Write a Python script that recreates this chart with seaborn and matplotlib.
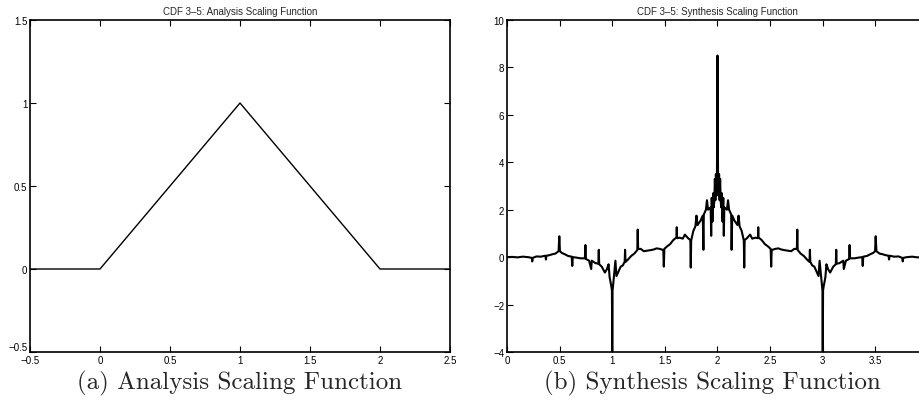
import numpy as np
import pandas as pd
import matplotlib
matplotlib.use("Agg")
import matplotlib.pyplot as plt
import seaborn as sns

# analysis scaling function (hat function)
analysis_x = [-0.5, 0.0, 1.0, 2.0, 2.5]
analysis_y = [0.0, 0.0, 1.0, 0.0, 0.0]

# synthesis scaling function
synth_x = [
    0.00, 0.05, 0.10, 0.15, 0.20, 0.235, 0.24, 0.245, 0.28, 0.32,
    0.365, 0.37, 0.375, 0.40, 0.43, 0.46, 0.49, 0.497, 0.503, 0.52,
    0.55, 0.58, 0.615, 0.62, 0.625, 0.66, 0.70, 0.74, 0.745, 0.75,
    0.78, 0.80, 0.805, 0.84, 0.868, 0.872, 0.876, 0.90, 0.93, 0.95,
    0.965, 0.975, 0.99, 0.997, 1.000, 1.003, 1.01, 1.03, 1.04, 1.06,
    1.08, 1.10, 1.118, 1.122, 1.126, 1.15, 1.18, 1.21, 1.238, 1.242,
    1.246, 1.27, 1.30, 1.33, 1.37, 1.40, 1.42, 1.45, 1.485, 1.49,
    1.495, 1.52, 1.55, 1.58, 1.61, 1.613, 1.616, 1.64, 1.67, 1.69,
    1.72, 1.742, 1.746, 1.75, 1.77, 1.79, 1.80, 1.81, 1.84, 1.86,
    1.866, 1.87, 1.89, 1.90, 1.91, 1.935, 1.94, 1.945, 1.952, 1.96,
    1.965, 1.97, 1.975, 1.98, 1.985, 1.99, 1.995, 2.000,
    2.005, 2.01, 2.015, 2.02, 2.025, 2.03, 2.035, 2.04,
    2.048, 2.055, 2.06, 2.065, 2.09,
    2.10, 2.11, 2.13, 2.134, 2.14, 2.16, 2.19, 2.20, 2.21, 2.23,
    2.25, 2.254, 2.258, 2.28, 2.31, 2.33, 2.36, 2.384, 2.387, 2.39,
    2.42, 2.45, 2.48, 2.505, 2.51, 2.515, 2.55, 2.58, 2.60, 2.63,
    2.67, 2.70, 2.73, 2.754, 2.758, 2.762, 2.79, 2.82, 2.85, 2.874,
    2.878, 2.882, 2.90, 2.92, 2.94, 2.96, 2.97, 2.99, 2.997, 3.000,
    3.003, 3.01, 3.025, 3.035, 3.05, 3.07, 3.10, 3.124, 3.128, 3.132,
    3.16, 3.195, 3.20, 3.22, 3.25, 3.255, 3.26, 3.30, 3.34, 3.375,
    3.38, 3.385, 3.42, 3.45, 3.48, 3.497, 3.503, 3.51, 3.54, 3.57,
    3.60, 3.625, 3.63, 3.635, 3.68, 3.72, 3.755, 3.76, 3.765, 3.80,
    3.85, 3.90, 3.95, 4.00,
]
synth_y = [
    0.00, 0.01, -0.01, 0.02, 0.00, -0.03, -0.18, -0.03, 0.03, 0.02,
    0.06, -0.10, 0.06, 0.08, 0.12, 0.15, 0.25, 0.88, 0.25, 0.18,
    0.12, 0.05, 0.02, -0.37, 0.00, -0.02, -0.05, -0.05, 0.51, -0.08,
    -0.15, -0.50, -0.15, -0.25, -0.28, 0.31, -0.30, -0.40, -0.65, -0.50,
    -0.30, -0.85, -1.20, -1.40, -4.30, -1.40, -1.10, -0.15, -0.80, -0.60,
    -0.40, -0.35, -0.20, 0.31, -0.20, -0.10, 0.05, 0.15, 0.30, 1.16,
    0.34, 0.35, 0.25, 0.27, 0.30, 0.33, 0.37, 0.35, 0.30, -0.40,
    0.35, 0.45, 0.55, 0.72, 0.83, 1.26, 0.80, 0.82, 0.78, 0.95,
    0.80, 0.72, -0.44, 0.70, 1.10, 1.30, 1.75, 1.35, 1.55, 1.75,
    0.31, 1.80, 2.00, 2.40, 2.00, 2.10, 0.90, 2.50, 1.50, 2.70,
    2.10, 2.40, 3.30, 2.40, 3.50, 2.60, 3.60, 8.50,
    3.60, 2.60, 3.50, 2.40, 3.30, 2.40, 2.10, 2.70,
    1.50, 2.50, 0.90, 2.10, 2.00,
    2.40, 2.00, 1.80, 0.31, 1.75, 1.55, 1.35, 1.75, 1.30, 1.10,
    0.70, -0.44, 0.72, 0.80, 0.95, 0.78, 0.82, 0.80, 1.26, 0.83,
    0.72, 0.55, 0.45, 0.35, -0.40, 0.30, 0.35, 0.37, 0.33, 0.30,
    0.27, 0.25, 0.35, 0.34, 1.16, 0.30, 0.15, 0.05, -0.10, -0.20,
    0.31, -0.20, -0.35, -0.40, -0.60, -0.80, -0.15, -1.10, -1.40, -4.30,
    -1.40, -1.20, -0.85, -0.30, -0.50, -0.65, -0.40, -0.30, 0.31, -0.28,
    -0.25, -0.15, -0.50, -0.15, -0.08, 0.51, -0.05, -0.05, -0.02, 0.00,
    -0.37, 0.02, 0.05, 0.12, 0.18, 0.25, 0.88, 0.25, 0.15, 0.12,
    0.08, 0.06, -0.10, 0.06, 0.02, 0.03, -0.03, -0.18, -0.03, 0.00,
    0.02, -0.01, 0.01, 0.00,
]

left_xticks = [-0.5, 0, 0.5, 1, 1.5, 2, 2.5]
left_xlabels = ["\u22120.5", "0", "0.5", "1", "1.5", "2", "2.5"]
left_yticks = [-0.5, 0, 0.5, 1, 1.5]
left_ylabels = ["\u22120.5", "0", "0.5", "1", "1.5"]
right_xticks = [0, 0.5, 1, 1.5, 2, 2.5, 3, 3.5, 4]
# the "4" label falls past the right edge of the picture
right_xlabels = ["0", "0.5", "1", "1.5", "2", "2.5", "3", "3.5", ""]
right_yticks = [-4, -2, 0, 2, 4, 6, 8, 10]
right_ylabels = ["\u22124", "\u22122", "0", "2", "4", "6", "8", "10"]

sns.set_style("ticks")
plt.rcParams['font.family'] = ['Liberation Sans', 'DejaVu Sans']

fig = plt.figure(figsize=(9.2, 4.06), dpi=100)
ax1 = fig.add_axes([30 / 920, 53 / 406, 420 / 920, 332 / 406])
ax2 = fig.add_axes([507 / 920, 53 / 406, 421 / 920, 332 / 406])

df_a = pd.DataFrame({'x': analysis_x, 'y': analysis_y})
df_s = pd.DataFrame({'x': synth_x, 'y': synth_y})

sns.lineplot(data=df_a, x='x', y='y', ax=ax1, color='black', linewidth=1.0,
             estimator=None, sort=False)
sns.lineplot(data=df_s, x='x', y='y', ax=ax2, color='black', linewidth=1.5,
             estimator=None, sort=False)

def style(ax, xt, xl, yt, yl, title):
    ax.set_xlim(xt[0], xt[-1])
    ax.set_ylim(yt[0], yt[-1])
    ax.set_xticks(xt)
    ax.set_xticklabels(xl)
    ax.set_yticks(yt)
    ax.set_yticklabels(yl)
    ax.set_xlabel('')
    ax.set_ylabel('')
    ax.tick_params(direction='in', top=True, right=True, length=4,
                   width=0.8, labelsize=7, pad=2, colors='black')
    for s in ax.spines.values():
        s.set_visible(True)
        s.set_linewidth(1.2)
        s.set_color('black')
    ax.set_title(title, fontsize=7, pad=4)

style(ax1, left_xticks, left_xlabels, left_yticks, left_ylabels,
      'CDF 3\u20135: Analysis Scaling Function')
style(ax2, right_xticks, right_xlabels, right_yticks, right_ylabels,
      'CDF 3\u20135: Synthesis Scaling Function')

# lift the bottom y label a little so it sits above the x label at the corner
ax1.get_yticklabels()[0].set_va('bottom')

fig.text(240 / 920, 1 - 383 / 406, '(a) Analysis Scaling Function',
         family='cmr10', fontsize=18, ha='center', va='center')
fig.text(712 / 920, 1 - 383 / 406, '(b) Synthesis Scaling Function',
         family='cmr10', fontsize=18, ha='center', va='center')

fig.savefig('out.png', dpi=100)
